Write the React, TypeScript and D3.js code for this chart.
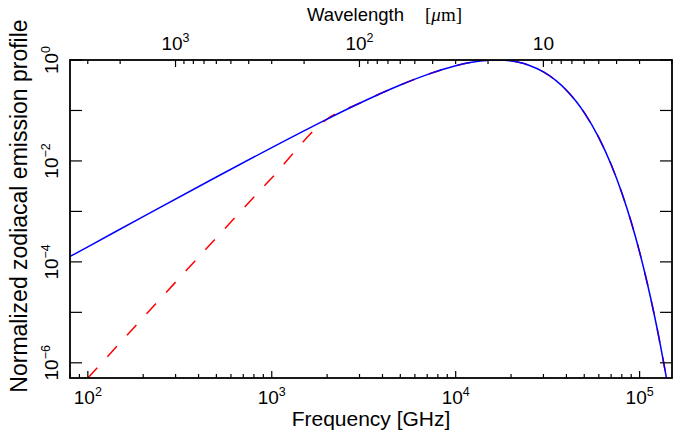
import React from 'react';
import * as d3 from 'd3';

// Blue curve: normalized zodiacal emission profile
const freqGHz = [80, 100, 200, 500, 1000, 2000, 3000, 5000, 7000, 10000, 12000, 14000, 15000, 16700, 18500, 20000, 22000, 25000, 30000, 35000, 40000, 45000, 50000, 60000, 70000, 80000, 90000, 100000, 110000, 120000, 130000, 140000, 150000];
const profile = [1.28e-4, 1.99e-4, 7.9e-4, 4.81e-3, 1.84e-2, 6.75e-2, 0.139, 0.32, 0.514, 0.768, 0.889, 0.965, 0.987, 1.0, 0.987, 0.958, 0.9, 0.788, 0.58, 0.394, 0.252, 0.154, 0.0908, 0.029, 8.49e-3, 2.34e-3, 6.15e-4, 1.56e-4, 3.82e-5, 9.16e-6, 2.15e-6, 4.96e-7, 1.12e-7];

// Red dashed curve: steeper low-frequency branch, joining the blue curve near 2000 GHz
const redFreqGHz = [100, 200, 500, 1000, 2000];
const redProfile = [4.98e-7, 7.9e-6, 3.01e-4, 4.61e-3, 6.75e-2];

const xMajor = [100, 1000, 10000, 100000];
const xMajorExp = ['2', '3', '4', '5'];
const yMajor = [1, 1e-1, 1e-2, 1e-3, 1e-4, 1e-5, 1e-6];
const yLabelVals = [1, 1e-2, 1e-4, 1e-6];
const yLabelExp = ['0', '\u22122', '\u22124', '\u22126'];
const waveMajor = [1000, 100, 10];
const waveBase = ['10', '10', '10'];
const waveExp = ['3', '2', ''];
const waveMinor = [3000, 2000, 900, 800, 700, 600, 500, 400, 300, 200, 90, 80, 70, 60, 50, 40, 30, 20, 9, 8, 7, 6, 5, 4, 3, 2];
const C_UM_GHZ = 299792.458;

const W = 686, H = 437;
const L = 70, R = 672, T = 60, B = 378;
const FONT = '"Liberation Sans", Arial, Helvetica, sans-serif';

export default function App() {
  const x = d3.scaleLog().domain([80, 1.5e5]).range([L, R]);
  const y = d3.scaleLog().domain([5e-7, 1]).range([B, T]);

  const line = d3.line<[number, number]>()
    .x(d => x(d[0]))
    .y(d => y(d[1]))
    .curve(d3.curveMonotoneX);

  const blue: [number, number][] = freqGHz.map((f, i) => [f, profile[i]]);
  const red: [number, number][] = [
    ...redFreqGHz.map((f, i) => [f, redProfile[i]] as [number, number]),
    ...blue.filter(d => d[0] > 2000),
  ];

  const xMinor: number[] = [];
  for (let e = 1; e <= 5; e++) {
    for (let k = 2; k <= 9; k++) {
      const v = k * Math.pow(10, e);
      if (v >= 80 && v <= 1.5e5) xMinor.push(v);
    }
  }

  return (
    <svg width={W} height={H} style={{ position: 'absolute', left: 0, top: 0, background: '#fff' }} fontFamily={FONT}>
      <defs>
        <clipPath id="plotclip">
          <rect x={L} y={T} width={R - L} height={B - T} />
        </clipPath>
      </defs>
      <rect x={0} y={0} width={W} height={H} fill="#fff" />

      <g clipPath="url(#plotclip)" fill="none">
        <path d={line(red) || ''} stroke="#ff0000" strokeWidth={1.5} strokeDasharray="14 15" />
        <path d={line(blue) || ''} stroke="#0000ff" strokeWidth={1.5} />
      </g>

      {/* frame */}
      <rect x={L} y={T} width={R - L} height={B - T} fill="none" stroke="#000" strokeWidth={1.8} />

      {/* ticks */}
      <g stroke="#000" strokeWidth={1.2}>
        {xMajor.map(v => (
          <line key={'xm' + v} x1={x(v)} x2={x(v)} y1={B} y2={B - 7} />
        ))}
        {xMinor.map(v => (
          <line key={'xn' + v} x1={x(v)} x2={x(v)} y1={B} y2={B - 4} />
        ))}
        {waveMajor.map(v => (
          <line key={'wm' + v} x1={x(C_UM_GHZ / v)} x2={x(C_UM_GHZ / v)} y1={T} y2={T + 7} />
        ))}
        {waveMinor.map(v => (
          <line key={'wn' + v} x1={x(C_UM_GHZ / v)} x2={x(C_UM_GHZ / v)} y1={T} y2={T + 4} />
        ))}
        {yMajor.map(v => (
          <g key={'y' + v}>
            <line x1={L} x2={L + 12} y1={y(v)} y2={y(v)} />
            <line x1={R} x2={R - 12} y1={y(v)} y2={y(v)} />
          </g>
        ))}
      </g>

      {/* bottom tick labels */}
      {xMajor.map((v, i) => (
        <text key={'xl' + v} x={x(v)} y={404} textAnchor="middle" fontSize={19} fill="#000">
          10<tspan dy={-8} fontSize={12.5}>{xMajorExp[i]}</tspan>
        </text>
      ))}

      {/* top tick labels */}
      {waveMajor.map((v, i) => (
        <text key={'wl' + v} x={x(C_UM_GHZ / v)} y={50} textAnchor="middle" fontSize={19} fill="#000">
          {waveBase[i]}
          {waveExp[i] ? <tspan dy={-8} fontSize={12.5}>{waveExp[i]}</tspan> : null}
        </text>
      ))}

      {/* left tick labels, rotated */}
      {yLabelVals.map((v, i) => (
        <text key={'yl' + v} transform={`translate(58, ${y(v)}) rotate(-90)`} textAnchor="middle" fontSize={19} fill="#000">
          10<tspan dy={-8} fontSize={12.5}>{yLabelExp[i]}</tspan>
        </text>
      ))}

      {/* axis titles */}
      <text x={371} y={426} textAnchor="middle" fontSize={21} fill="#000">Frequency [GHz]</text>
      <text x={404} y={21} textAnchor="end" fontSize={18.5} fill="#000">Wavelength</text>
      <text x={425} y={21} fontSize={19} fill="#000" fontFamily={'"Liberation Serif", "DejaVu Serif", serif'}>
        [<tspan fontStyle="italic">μ</tspan>m]
      </text>
      <text transform={`translate(27, 206) rotate(-90)`} textAnchor="middle" fontSize={23} fill="#000">
        Normalized zodiacal emission profile
      </text>
    </svg>
  );
}
